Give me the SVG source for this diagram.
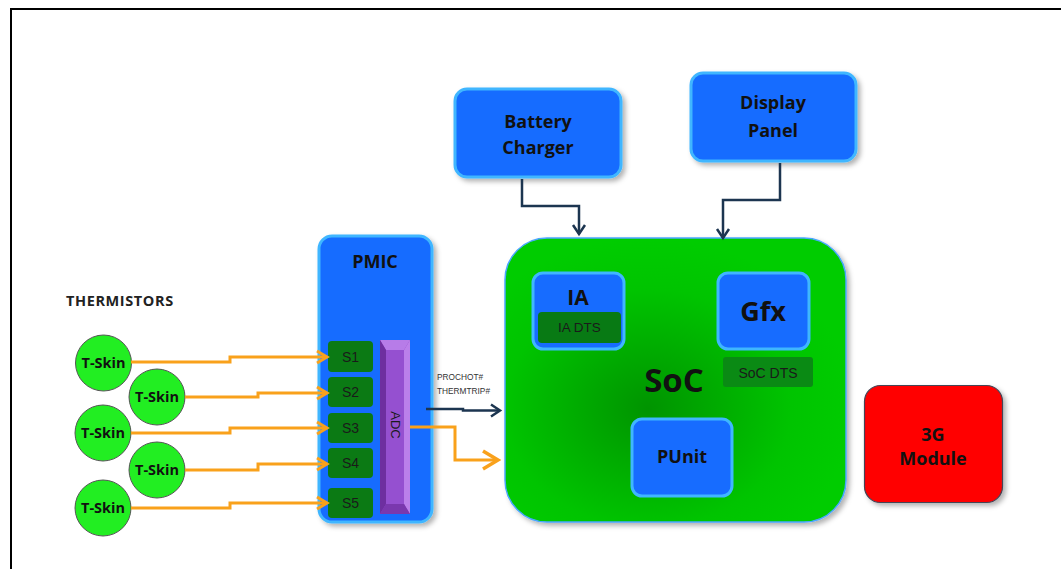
<svg xmlns="http://www.w3.org/2000/svg" width="1061" height="569" viewBox="0 0 1061 569">
<defs>
<style>
.blue{fill:#176cff;stroke:#3fb6ff;stroke-width:3}
.lbl{font-family:"Open Sans","Noto Sans",sans-serif;font-weight:700;fill:#111;text-anchor:middle}
.reg{font-family:"Liberation Sans",Arial,sans-serif;fill:#1a1a1a;text-anchor:middle}
.dg{fill:#0b7a14}
.orange{fill:none;stroke:#f9a11b;stroke-width:3}
.navy{fill:none;stroke:#1c3550;stroke-width:2.5}
.tskin{fill:#22ee22;stroke:#555;stroke-width:1}
</style>
<filter id="sh" x="-20%" y="-20%" width="150%" height="150%">
<feDropShadow dx="3" dy="3" stdDeviation="2.5" flood-color="#000" flood-opacity="0.3"/>
</filter>
<radialGradient id="socg" cx="0.42" cy="0.6" r="0.6">
<stop offset="0" stop-color="#009400"/>
<stop offset="0.7" stop-color="#00c400"/>
<stop offset="1" stop-color="#00cc00"/>
</radialGradient>
<marker id="ao" markerUnits="userSpaceOnUse" markerWidth="16" markerHeight="16" refX="13" refY="8" orient="auto">
<path d="M3,2 L13,8 L3,14" fill="none" stroke="#f9a11b" stroke-width="3"/>
</marker>
<marker id="aob" markerUnits="userSpaceOnUse" markerWidth="22" markerHeight="22" refX="19" refY="11" orient="auto">
<path d="M4,2 L19,11 L4,20" fill="none" stroke="#f9a11b" stroke-width="3.5"/>
</marker>
<marker id="an" markerUnits="userSpaceOnUse" markerWidth="16" markerHeight="16" refX="13" refY="8" orient="auto">
<path d="M4,2 L13,8 L4,14" fill="none" stroke="#1c3550" stroke-width="2.5"/>
</marker>
</defs>
<rect width="1061" height="569" fill="#fff"/>
<path d="M11,569 V9 H1061" fill="none" stroke="#000" stroke-width="2"/>

<text x="66" y="306" font-family="'Open Sans','Noto Sans',sans-serif" font-weight="700" font-size="14.5" letter-spacing="0.6" fill="#222">THERMISTORS</text>

<g id="tskin1"><circle class="tskin" cx="103.5" cy="363" r="28"/><text class="lbl" x="103.5" y="368" font-size="14.5">T-Skin</text></g>
<g id="tskin2"><circle class="tskin" cx="157" cy="397" r="28"/><text class="lbl" x="157" y="402" font-size="14.5">T-Skin</text></g>
<g id="tskin3"><circle class="tskin" cx="103" cy="433" r="28"/><text class="lbl" x="103" y="438" font-size="14.5">T-Skin</text></g>
<g id="tskin4"><circle class="tskin" cx="157" cy="470" r="28"/><text class="lbl" x="157" y="475" font-size="14.5">T-Skin</text></g>
<g id="tskin5"><circle class="tskin" cx="103" cy="508" r="28"/><text class="lbl" x="103" y="513" font-size="14.5">T-Skin</text></g>

<g id="pmic">
<rect class="blue" x="319" y="236" width="113" height="286" rx="13" filter="url(#sh)"/>
<text class="lbl" x="375" y="268" font-size="18">PMIC</text>
</g>
<g id="s1"><rect class="dg" x="328" y="341" width="45" height="31" rx="4"/><text class="reg" x="350.5" y="361.5" font-size="14">S1</text></g>
<g id="s2"><rect class="dg" x="328" y="377" width="45" height="30" rx="4"/><text class="reg" x="350.5" y="397" font-size="14">S2</text></g>
<g id="s3"><rect class="dg" x="328" y="413" width="45" height="30" rx="4"/><text class="reg" x="350.5" y="433" font-size="14">S3</text></g>
<g id="s4"><rect class="dg" x="328" y="448" width="45" height="30" rx="4"/><text class="reg" x="350.5" y="468" font-size="14">S4</text></g>
<g id="s5"><rect class="dg" x="328" y="488" width="45" height="30" rx="4"/><text class="reg" x="350.5" y="508" font-size="14">S5</text></g>

<g id="adc">
<rect x="380" y="340" width="30" height="174" fill="#8a42c4"/>
<polygon points="380,340 410,340 404,350 386,350" fill="#b77ce8"/>
<polygon points="410,340 410,514 404,504 404,350" fill="#bb80ea"/>
<polygon points="380,340 386,350 386,504 380,514" fill="#6e2fa0"/>
<polygon points="380,514 386,504 404,504 410,514" fill="#7a38ae"/>
<rect x="386" y="350" width="18" height="154" fill="#9550d0"/>
<text class="reg" x="395" y="425" font-size="13" transform="rotate(90 395 425)" dy="4.5">ADC</text>
</g>

<g id="signals">
<text x="437" y="380" font-family="'Liberation Sans',Arial,sans-serif" font-size="8.3" fill="#333">PROCHOT#</text>
<text x="437" y="394" font-family="'Liberation Sans',Arial,sans-serif" font-size="8.3" fill="#333">THERMTRIP#</text>
</g>

<g id="battery">
<rect class="blue" x="455" y="89" width="166" height="88" rx="12" filter="url(#sh)"/>
<text class="lbl" x="538" y="128" font-size="18">Battery</text>
<text class="lbl" x="538" y="154" font-size="18">Charger</text>
</g>
<g id="display">
<rect class="blue" x="691" y="73" width="165" height="88" rx="12" filter="url(#sh)"/>
<text class="lbl" x="773" y="109" font-size="18">Display</text>
<text class="lbl" x="773" y="137" font-size="18">Panel</text>
</g>

<g id="soc">
<rect x="505" y="238" width="341" height="284" rx="42" fill="url(#socg)" stroke="#4aa6ff" stroke-width="1.5" filter="url(#sh)"/>
<text class="lbl" x="674" y="392" font-size="33">SoC</text>
</g>
<g id="ia">
<rect class="blue" x="533" y="273" width="91" height="76" rx="10"/>
<text class="lbl" x="578" y="305" font-size="21">IA</text>
<rect x="538" y="312" width="83" height="31" rx="4" fill="#087a14"/>
<text class="reg" x="579.5" y="332" font-size="13.5" fill="#1d3a1d">IA DTS</text>
</g>
<g id="gfx">
<rect class="blue" x="718" y="273" width="91" height="76" rx="10"/>
<text class="lbl" x="763" y="321" font-size="27">Gfx</text>
</g>
<g id="socdts">
<rect x="723" y="357" width="90" height="30" rx="3" fill="#0a8a14"/>
<text class="reg" x="768" y="378" font-size="14" fill="#1d3a1d">SoC DTS</text>
</g>
<g id="punit">
<rect class="blue" x="632" y="419" width="100" height="77" rx="10"/>
<text class="lbl" x="682" y="463" font-size="18">PUnit</text>
</g>

<g id="module3g">
<rect x="864.5" y="385.5" width="138" height="117" rx="16" fill="#ff0000" stroke="#445" stroke-width="1.2" filter="url(#sh)"/>
<text class="lbl" x="933" y="441" font-size="18">3G</text>
<text class="lbl" x="933" y="465" font-size="18">Module</text>
</g>

<g id="connectors">
<path class="orange" d="M131,362 H230 V357 H327" marker-end="url(#ao)"/>
<path class="orange" d="M185,397 H258 V393 H327" marker-end="url(#ao)"/>
<path class="orange" d="M131,433 H230 V428 H327" marker-end="url(#ao)"/>
<path class="orange" d="M185,470 H258 V464 H327" marker-end="url(#ao)"/>
<path class="orange" d="M131,508 H230 V503 H327" marker-end="url(#ao)"/>
<path class="orange" d="M410,427 H455 V460 H498" marker-end="url(#aob)"/>
<path class="navy" d="M426,409 H463 V410.5 H500" marker-end="url(#an)" stroke-width="2"/>
<path class="navy" d="M522,179 V206 H579 V234" marker-end="url(#an)"/>
<path class="navy" d="M780,163 V200 H723 V238" marker-end="url(#an)"/>
</g>
</svg>
